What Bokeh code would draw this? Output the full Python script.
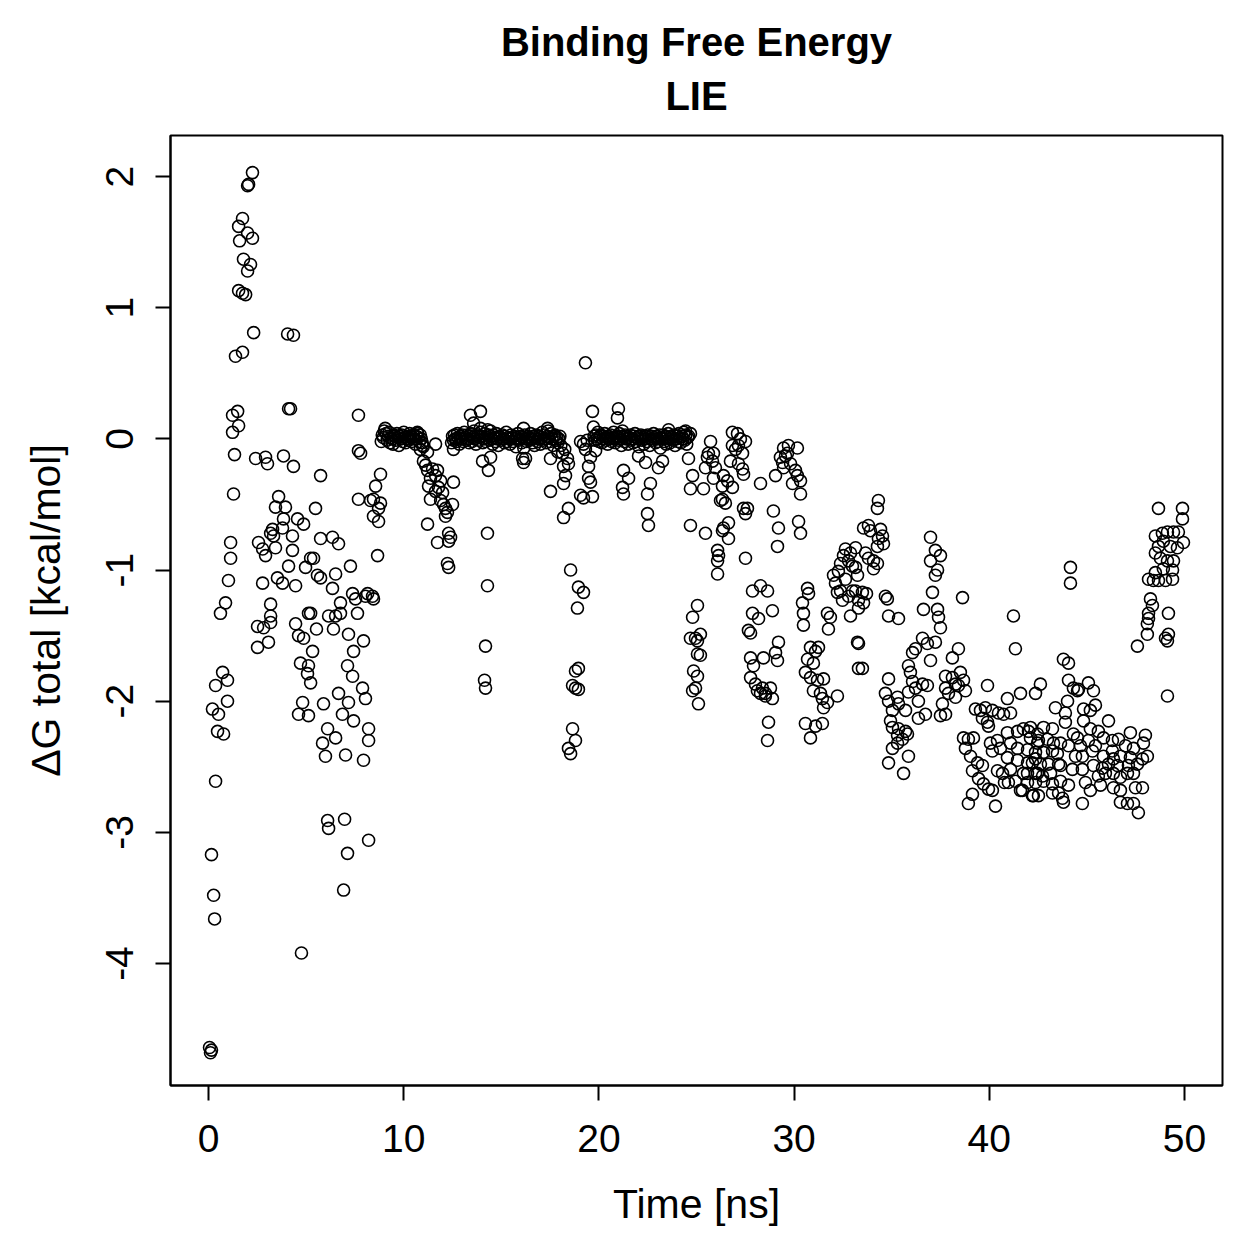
from bokeh.plotting import figure
from bokeh.models import Range1d, FixedTicker, Title, ColumnDataSource
from bokeh.embed import file_html
from bokeh.resources import INLINE
import numpy as np

FRAME_NS = 0.05  # trajectory frame spacing

# --- early, strongly fluctuating part (0 - 9 ns): (time [ns], dG [kcal/mol]) ---
early = [
    (0.05, -4.64), (0.10, -4.68), (0.15, -4.66), (0.15, -3.17), (0.26, -3.48), (0.31, -3.66),
    (0.36, -2.61), (0.20, -2.06), (0.36, -1.88), (0.51, -2.10), (0.46, -2.23), (0.72, -1.78),
    (0.97, -1.84), (0.97, -2.00), (0.77, -2.25), (0.61, -1.33), (0.87, -1.25),
    (1.02, -1.08), (1.13, -0.91), (1.13, -0.79), (1.28, -0.42), (1.23, 0.05), (1.33, -0.12),
    (1.23, 0.18), (1.49, 0.21), (1.54, 0.10), (1.38, 0.63), (1.74, 0.66), (1.59, 1.51),
    (1.54, 1.62), (1.74, 1.68), (1.54, 1.13), (1.74, 1.11), (1.90, 1.10), (1.79, 1.37),
    (2.00, 1.57), (2.00, 1.28), (2.15, 1.33), (2.25, 1.53), (2.00, 1.93), (2.05, 1.94),
    (2.25, 2.03), (2.31, 0.81),
    (2.41, -0.15), (2.92, -0.14), (3.02, -0.19), (2.56, -0.79), (2.77, -0.84), (2.92, -0.89),
    (3.43, -0.83), (2.77, -1.10), (2.51, -1.43), (2.82, -1.44), (3.18, -1.35), (3.18, -1.40),
    (2.51, -1.59), (3.07, -1.55), (3.18, -1.26), (3.28, -0.69), (3.18, -0.72), (3.33, -0.74),
    (3.59, -0.44), (3.43, -0.52), (3.94, -0.52), (3.53, -1.06), (3.79, -1.10), (3.84, -0.61),
    (3.79, -0.68), (4.10, -0.97), (4.30, -0.74), (4.30, -0.85), (4.05, 0.80), (4.35, 0.79),
    (4.10, 0.23), (4.20, 0.23), (3.84, -0.13), (4.35, -0.21), (4.46, -1.12), (4.56, -0.61),
    (4.87, -0.65), (4.46, -1.41), (4.61, -1.50), (4.87, -1.52), (4.71, -1.71), (5.12, -1.73),
    (5.07, -1.79), (5.23, -1.86), (4.82, -2.01), (4.61, -2.10), (5.12, -2.11), (4.76, -3.92),
    (5.23, -0.91), (5.38, -0.91), (4.97, -0.98), (5.12, -1.33), (5.23, -1.33), (5.33, -1.62),
    (5.53, -1.45), (5.58, -1.04), (5.74, -1.06), (5.74, -0.76), (5.48, -0.53), (5.74, -0.28),
    (5.89, -2.02), (6.10, -2.21), (6.51, -2.28), (5.84, -2.32), (5.99, -2.42), (6.10, -2.91),
    (6.15, -2.97), (6.97, -2.90), (6.92, -3.44), (7.12, -3.16), (8.20, -3.06), (6.35, -0.75),
    (6.66, -0.80), (6.51, -1.03), (6.35, -1.14), (6.15, -1.35), (6.51, -1.35), (6.40, -1.45),
    (6.76, -1.33), (6.76, -1.25), (7.17, -1.49), (7.43, -1.62), (7.63, -1.33), (7.38, -1.18),
    (7.53, -1.22), (7.27, -0.97), (7.68, -0.46), (7.68, -0.09), (7.79, -0.11), (7.68, 0.18),
    (7.94, -1.54), (8.04, -1.20), (7.12, -1.73), (7.38, -1.81), (7.89, -1.90), (8.04, -1.98),
    (6.66, -1.94), (7.17, -2.01), (6.86, -2.10), (7.43, -2.15), (7.02, -2.41), (7.94, -2.45),
    (8.20, -2.21), (8.20, -2.30), (8.30, -0.47), (8.15, -1.18), (8.40, -1.20), (8.45, -1.22),
    (8.45, -0.46), (8.81, -0.49), (8.71, -0.53), (8.45, -0.59), (8.71, -0.63), (8.66, -0.89),
    (8.56, -0.36), (8.81, -0.27),
]

# --- plateau 1 (8.85 - 11.00 ns), one value per frame ---
plateau1_start = 8.85
plateau1_dg = [
    -0.02, 0.03, 0.01, 0.06, 0.08, 0.04, -0.01, 0.02, 0.05, -0.03, 0.01, 0.00, -0.04, 0.03,
    0.02, -0.01, 0.04, 0.01, -0.05, 0.02, 0.00, 0.03, -0.02, 0.05, 0.01, -0.03, 0.02, 0.00,
    -0.01, 0.04, 0.02, -0.02, 0.01, 0.03, 0.00, -0.04, 0.02, 0.05, 0.01, -0.02, 0.03, 0.00,
    -0.03, -0.06,
]

# --- dip between the plateaus (10.7 - 12.6 ns) ---
dip = [
    (10.96, -0.05), (11.22, -0.10), (11.63, -0.04), (11.01, -0.17), (11.12, -0.20), (11.22, -0.24),
    (11.48, -0.23), (11.73, -0.24), (11.63, -0.28), (11.37, -0.30), (11.89, -0.32), (11.78, -0.37),
    (11.27, -0.36), (12.55, -0.33), (11.63, -0.40), (11.99, -0.41), (11.37, -0.46), (11.89, -0.47),
    (12.04, -0.50), (12.50, -0.50), (12.14, -0.53), (12.24, -0.56), (12.14, -0.59), (11.22, -0.65),
    (11.73, -0.79), (12.30, -0.72), (12.40, -0.75), (12.30, -0.78), (12.24, -0.95), (12.30, -0.98),
    (10.71, 0.04), (10.85, -0.08),
]

# --- plateau 2 (12.45 - 18.00 ns), one value per frame ---
plateau2_start = 12.45
plateau2_dg = [
    -0.03, 0.02, -0.01, 0.03, 0.00, -0.02, 0.04, 0.01, -0.04, 0.02,
    0.00, 0.03, -0.02, 0.05, 0.01, -0.01, 0.03, 0.00, -0.03, 0.02,
    0.04, -0.02, 0.01, 0.06, 0.00, -0.04, 0.02, 0.03, -0.01, 0.01,
    0.05, 0.02, -0.03, 0.00, 0.04, -0.02, 0.01, 0.07, 0.03, -0.01,
    0.02, 0.00, -0.04, 0.03, 0.01, -0.02, 0.04, 0.00, -0.05, 0.02,
    0.01, -0.01, 0.03, 0.00, -0.03, 0.02, 0.05, -0.02, 0.01, 0.00,
    -0.04, 0.03, 0.01, -0.02, 0.02, 0.00, -0.06, 0.01, 0.04, -0.01,
    0.00, 0.02, -0.03, 0.01, -0.07, 0.03, 0.00, -0.02, 0.02, 0.01,
    -0.01, 0.04, 0.00, -0.03, 0.02, -0.05, 0.01, 0.03, -0.02, 0.00,
    0.02, -0.04, 0.01, 0.05, -0.01, 0.03, 0.00, -0.03, 0.02, 0.06,
    0.01, -0.02, 0.04, 0.00, -0.05, 0.02, 0.03, -0.01, 0.01, -0.03,
    0.00, 0.02,
]

# --- excursions around plateau 2 and the gap before plateau 3 (12.5 - 19.8 ns) ---
mid = [
    (13.42, 0.18), (13.93, 0.21), (13.58, 0.12), (13.93, 0.08), (14.45, 0.06), (16.14, 0.08),
    (17.37, 0.08), (12.55, -0.08), (14.04, -0.17), (14.45, -0.14), (14.34, -0.24), (16.09, -0.15),
    (16.14, -0.18), (16.24, -0.15), (17.52, -0.15), (18.14, -0.11), (18.39, -0.15), (18.44, -0.19),
    (18.19, -0.21), (18.29, -0.28), (18.19, -0.34), (17.52, -0.40), (18.44, -0.53), (18.19, -0.60),
    (14.29, -0.72), (14.29, -1.12), (14.19, -1.58), (14.14, -1.84), (14.19, -1.90),
    (18.05, -0.05), (18.25, -0.08), (17.90, -0.10),
    (19.21, -0.04), (19.31, -0.08), (19.83, -0.09), (19.57, -0.14), (19.47, -0.21), (19.47, -0.30),
    (19.57, -0.33), (19.06, -0.43), (19.21, -0.45), (19.67, -0.44), (19.31, 0.58), (19.67, 0.21),
    (19.72, 0.09), (18.55, -1.00), (18.95, -1.13), (19.21, -1.17), (18.90, -1.29), (18.80, -1.77),
    (18.95, -1.75), (18.65, -1.88), (18.80, -1.90), (18.95, -1.91), (18.65, -2.21), (18.80, -2.30),
    (18.44, -2.36), (18.55, -2.40), (19.06, -0.02), (19.40, -0.01),
]

# --- plateau 3 (19.75 - 24.60 ns), one value per frame ---
plateau3_start = 19.75
plateau3_dg = [
    0.02, -0.01, 0.03, 0.00, 0.05, -0.02, 0.01, 0.03, -0.03, 0.00,
    0.02, 0.04, -0.01, 0.01, -0.04, 0.02, 0.00, 0.03, -0.02, 0.01,
    0.05, 0.00, -0.03, 0.02, 0.01, -0.01, 0.04, 0.00, -0.05, 0.02,
    0.01, -0.02, 0.03, 0.00, 0.02, -0.04, 0.01, 0.03, -0.01, 0.00,
    -0.03, 0.02, 0.04, -0.02, 0.01, 0.00, -0.06, 0.02, 0.03, -0.01,
    0.01, -0.04, 0.00, 0.02, -0.02, 0.03, 0.01, -0.05, 0.00, 0.02,
    -0.01, 0.04, 0.01, -0.03, 0.02, 0.00, -0.02, 0.03, -0.07, 0.01,
    0.00, 0.03, -0.02, 0.02, -0.04, 0.01, 0.04, 0.00, -0.03, 0.02,
    0.01, -0.01, 0.03, -0.05, 0.00, 0.02, -0.02, 0.04, 0.01, -0.03,
    0.02, 0.00, 0.05, -0.01, 0.03, -0.04, 0.01, 0.02,
]

# --- excursions around plateau 3 (20 - 25.2 ns) ---
late_plateau = [
    (21.00, 0.23), (20.95, 0.16), (21.21, 0.06), (23.57, 0.07), (24.44, 0.06), (24.69, 0.04),
    (22.03, -0.13), (22.39, -0.18), (21.26, -0.24), (21.52, -0.30), (21.21, -0.37), (21.26, -0.42),
    (22.64, -0.34), (22.49, -0.42), (22.49, -0.57), (22.54, -0.66), (23.05, -0.22), (23.26, -0.17),
    (24.59, -0.15), (24.80, -0.28), (24.69, -0.38), (24.69, -0.66), (25.05, -1.27), (24.80, -1.36),
    (24.69, -1.52), (24.95, -1.52), (25.05, -1.54), (25.05, -1.64), (24.85, -1.77), (25.05, -1.81),
    (24.80, -1.92), (25.10, -2.02), (25.20, -1.49), (25.20, -1.65), (24.95, -1.90),
]

# --- drift towards more negative values (25 - 35.5 ns) ---
drift = [
    (25.46, -0.72), (25.72, -0.02), (25.61, -0.11), (25.87, -0.11), (25.56, -0.14), (25.82, -0.17),
    (25.46, -0.22), (25.97, -0.22), (25.87, -0.30), (25.36, -0.38), (26.38, -0.28), (26.59, -0.32),
    (26.33, -0.36), (26.84, -0.37), (26.33, -0.46), (26.48, -0.49), (26.23, -0.47), (26.38, -0.68),
    (26.64, -0.64), (26.33, -0.70), (26.64, -0.76), (26.08, -0.85), (26.13, -0.89), (26.08, -0.93),
    (26.08, -1.03), (26.84, 0.05), (27.10, 0.04), (27.25, 0.00), (27.51, -0.02), (26.84, -0.05),
    (27.00, -0.08), (27.15, -0.05), (27.36, -0.11), (26.74, -0.17), (27.15, -0.19), (27.36, -0.23),
    (27.41, -0.27), (27.41, -0.53), (27.61, -0.53), (27.51, -0.57), (27.51, -0.91), (28.28, -0.34),
    (29.05, -0.28), (28.94, -0.55), (29.20, -0.68), (29.15, -0.82), (29.46, -0.07), (29.66, -0.11),
    (29.71, -0.05), (29.30, -0.14), (30.17, -0.07), (29.82, -0.19), (30.07, -0.24), (30.17, -0.28),
    (29.92, -0.34), (30.33, -0.32), (30.33, -0.42), (30.23, -0.63), (30.33, -0.72), (29.46, -0.22),
    (29.41, -0.18), (29.56, -0.13),
    (27.87, -1.16), (28.28, -1.12), (28.64, -1.16), (27.87, -1.33), (28.18, -1.37), (28.89, -1.31),
    (27.66, -1.46), (27.77, -1.48), (29.20, -1.55), (29.05, -1.63), (29.15, -1.69), (27.77, -1.67),
    (27.92, -1.73), (28.43, -1.67), (27.77, -1.82), (28.02, -1.87), (28.12, -1.92), (28.38, -1.90),
    (28.53, -1.94), (28.79, -1.90), (28.89, -1.98), (28.53, -1.96), (28.28, -1.94), (28.69, -2.16),
    (28.64, -2.30),
    (30.69, -1.14), (30.74, -1.18), (30.43, -1.25), (30.48, -1.33), (30.48, -1.42), (31.71, -1.33),
    (31.86, -1.36), (31.76, -1.45), (30.84, -1.59), (31.10, -1.62), (31.25, -1.59), (30.69, -1.68),
    (30.99, -1.71), (30.58, -1.78), (30.84, -1.82), (31.20, -1.84), (31.51, -1.83), (30.99, -1.92),
    (31.35, -1.94), (31.45, -1.98), (31.71, -2.01), (32.22, -1.96), (31.51, -2.05), (30.58, -2.17),
    (31.10, -2.19), (31.45, -2.17), (30.84, -2.28),
    (33.56, -0.68), (32.02, -1.04), (32.12, -1.10), (32.27, -1.01), (32.38, -0.95), (32.53, -0.89),
    (32.63, -0.84), (32.79, -0.93), (32.89, -0.87), (32.99, -0.97), (33.15, -0.83), (33.15, -0.98),
    (33.25, -1.04), (32.63, -1.07), (32.38, -1.16), (32.22, -1.17), (32.48, -1.23), (32.79, -1.20),
    (32.99, -1.16), (33.15, -1.16), (33.30, -1.23), (33.50, -1.17), (33.56, -1.25), (33.30, -1.29),
    (33.71, -1.18), (32.89, -1.35), (33.25, -1.55), (33.30, -1.56), (33.30, -1.75), (33.50, -1.75),
    (34.32, -0.47), (34.27, -0.53), (33.81, -0.66), (33.91, -0.70), (34.43, -0.69), (34.53, -0.74),
    (34.32, -0.76), (34.58, -0.80), (34.27, -0.82), (33.66, -0.87), (33.81, -0.91), (34.07, -0.93),
    (34.27, -0.95), (34.07, -0.99), (34.68, -1.20), (34.78, -1.22), (34.84, -1.35), (35.35, -1.37),
]

# --- low-energy basin (34.5 - 48.2 ns) ---
basin = [
    (36.99, -0.75), (37.24, -0.85), (37.50, -0.89), (36.99, -0.93), (37.35, -1.00), (37.24, -1.04),
    (37.09, -1.17), (36.63, -1.30), (37.35, -1.30), (37.40, -1.36), (37.50, -1.44), (38.63, -1.21),
    (36.58, -1.52), (36.83, -1.56), (37.24, -1.55), (36.22, -1.60), (36.07, -1.63), (36.99, -1.69),
    (38.42, -1.60), (38.11, -1.67), (34.84, -1.83), (35.86, -1.73), (35.96, -1.78), (36.07, -1.85),
    (36.22, -1.90), (35.86, -1.93), (36.58, -1.87), (36.83, -1.88), (36.37, -2.00), (34.68, -1.94),
    (34.84, -2.00), (35.30, -1.97), (35.35, -2.02), (35.04, -2.07), (35.71, -2.07), (36.37, -2.13),
    (36.73, -2.10), (34.94, -2.15), (35.04, -2.20), (35.35, -2.21), (35.30, -2.26), (35.71, -2.23),
    (35.55, -2.29), (35.81, -2.25), (35.30, -2.32), (35.04, -2.36), (35.86, -2.42), (34.84, -2.47),
    (35.61, -2.55),
    (37.76, -1.81), (38.11, -1.82), (38.27, -1.87), (38.52, -1.78), (38.78, -1.92), (38.42, -1.88),
    (37.76, -1.90), (37.91, -1.94), (38.27, -1.97), (38.68, -1.84), (37.60, -2.02), (37.76, -2.10),
    (37.50, -2.11), (39.91, -1.88), (40.93, -1.98), (41.60, -1.94), (41.24, -1.35), (41.34, -1.60),
    (39.29, -2.06), (39.55, -2.07), (39.80, -2.05), (40.16, -2.07), (40.47, -2.09), (40.73, -2.10),
    (41.09, -2.09), (39.65, -2.13), (39.96, -2.19), (39.91, -2.16), (38.68, -2.28), (38.93, -2.29),
    (39.19, -2.28), (38.78, -2.36), (39.04, -2.42), (39.40, -2.47), (39.65, -2.49), (39.14, -2.53),
    (39.45, -2.59), (39.70, -2.63), (39.96, -2.67), (40.16, -2.68), (39.14, -2.71), (38.93, -2.78),
    (40.32, -2.80), (40.68, -2.55), (40.98, -2.62), (41.34, -2.61), (41.70, -2.68),
    (40.06, -2.32), (40.42, -2.30), (40.16, -2.38), (40.57, -2.36), (41.09, -2.32), (40.93, -2.24),
    (41.45, -2.23), (41.45, -2.36), (40.93, -2.43), (41.45, -2.45), (40.42, -2.53), (41.09, -2.52),
    (40.78, -2.62), (42.62, -1.87), (42.37, -1.94),
    (42.01, -2.23), (42.47, -2.25), (41.96, -2.37), (42.47, -2.32), (41.96, -2.47), (42.37, -2.44),
    (41.75, -2.55), (42.47, -2.55), (41.60, -2.68), (42.26, -2.72), (42.52, -2.72),
    (41.75, -2.21), (42.11, -2.20), (42.78, -2.20), (43.24, -2.21), (42.11, -2.28), (42.52, -2.30),
    (42.98, -2.29), (43.29, -2.32), (43.65, -2.32), (42.37, -2.39), (42.78, -2.39), (43.24, -2.38),
    (43.49, -2.40), (42.21, -2.47), (42.62, -2.48), (43.03, -2.48), (43.55, -2.48), (41.96, -2.55),
    (42.37, -2.55), (42.73, -2.57), (43.14, -2.55), (41.96, -2.62), (42.37, -2.62), (42.78, -2.61),
    (43.24, -2.63), (43.55, -2.70), (43.75, -2.74), (42.21, -2.72), (43.24, -2.70), (43.80, -2.77),
    (44.16, -0.98), (44.16, -1.10), (43.80, -1.68), (44.06, -1.71), (44.06, -1.84), (44.31, -1.90),
    (44.57, -1.91), (45.08, -1.86), (45.34, -1.92), (44.52, -1.92), (43.39, -2.05), (44.01, -2.00),
    (43.90, -2.09), (44.83, -2.06), (45.18, -2.07), (45.44, -2.03), (46.11, -2.15), (43.90, -2.16),
    (44.83, -2.15), (45.18, -2.21), (45.59, -2.23), (44.31, -2.25), (44.52, -2.28), (47.23, -2.24),
    (48.00, -2.26), (47.90, -2.32), (47.39, -2.36), (46.62, -2.29), (46.31, -2.30), (45.85, -2.28),
    (48.10, -2.42), (47.85, -2.44), (47.23, -2.43), (46.72, -2.42), (46.36, -2.44), (45.85, -2.42),
    (45.29, -2.38), (44.77, -2.42), (44.42, -2.42), (43.65, -2.49), (44.26, -2.52), (44.77, -2.52),
    (45.34, -2.49), (45.80, -2.51), (46.11, -2.48), (46.57, -2.49), (47.13, -2.49), (47.59, -2.48),
    (45.59, -2.57), (45.95, -2.55), (46.36, -2.55), (46.72, -2.58), (47.08, -2.55), (47.39, -2.55),
    (44.93, -2.62), (46.36, -2.66), (46.72, -2.68), (47.49, -2.66), (47.85, -2.66), (46.72, -2.77),
    (47.08, -2.78), (47.39, -2.78), (47.64, -2.85), (44.77, -2.78),
    (44.06, -2.34), (44.67, -2.34), (45.08, -2.30), (45.44, -2.34), (43.65, -2.61), (44.06, -2.64),
    (45.18, -2.68), (45.70, -2.64), (46.31, -2.38), (46.98, -2.34),
]

# --- final recovery (47.5 - 50 ns) ---
recovery = [
    (48.26, -1.22), (48.36, -1.27), (48.16, -1.33), (48.16, -1.37), (48.10, -1.41), (48.10, -1.49),
    (47.59, -1.58), (49.18, -1.33), (49.18, -1.49), (49.03, -1.52), (49.13, -1.54), (49.13, -1.96),
    (48.67, -0.53), (49.90, -0.53), (49.90, -0.61),
    (48.51, -0.74), (48.87, -0.72), (49.13, -0.71), (49.44, -0.71), (49.69, -0.71), (49.95, -0.79),
    (49.64, -0.83), (49.28, -0.82), (48.92, -0.78), (48.67, -0.82), (48.51, -0.87), (48.77, -0.91),
    (49.13, -0.93), (49.44, -0.93), (49.39, -1.00), (48.92, -0.99), (48.51, -1.02), (48.16, -1.07),
    (48.41, -1.08), (48.67, -1.08), (49.03, -1.08), (49.39, -1.07),
]

x_ticks = [0, 10, 20, 30, 40, 50]
y_ticks = [-4, -3, -2, -1, 0, 1, 2]


def plateau(start, values):
    return [(round(start + i * FRAME_NS, 2), v) for i, v in enumerate(values)]


points = (early + plateau(plateau1_start, plateau1_dg) + dip
          + plateau(plateau2_start, plateau2_dg) + mid
          + plateau(plateau3_start, plateau3_dg) + late_plateau
          + drift + basin + recovery)
points.sort(key=lambda p: p[0])
time_ns = np.array([p[0] for p in points])
dg_total = np.array([p[1] for p in points])

source = ColumnDataSource(data=dict(time=time_ns, dg=dg_total))

FONT = "Liberation Sans"

p = figure(
    width=1259, height=1259,
    output_backend="svg", toolbar_location=None,
    x_range=Range1d(-1.95, 51.95), y_range=Range1d(-4.93, 2.313),
    min_border_left=170, min_border_right=37, min_border_top=135, min_border_bottom=174,
    background_fill_color="white", border_fill_color="white",
)
p.title = None

p.scatter("time", "dg", source=source, marker="circle", size=12,
          fill_color=None, line_color="black", line_width=1.6)

p.grid.visible = False
p.outline_line_color = "black"
p.outline_line_width = 2
p.outline_line_alpha = 1

for ax in (p.xaxis[0], p.yaxis[0]):
    ax.axis_line_width = 2
    ax.major_tick_line_width = 2
    ax.major_tick_out = 15
    ax.major_tick_in = 0
    ax.minor_tick_out = 0
    ax.minor_tick_in = 0
    ax.major_label_text_font = FONT
    ax.major_label_text_font_size = "39px"
    ax.major_label_text_color = "black"
    ax.axis_label_text_font = FONT
    ax.axis_label_text_font_size = "41px"
    ax.axis_label_text_font_style = "normal"
    ax.axis_label_text_color = "black"

p.xaxis[0].ticker = FixedTicker(ticks=x_ticks)
p.yaxis[0].ticker = FixedTicker(ticks=y_ticks)
# plain hyphen minus signs on the tick labels
p.yaxis[0].major_label_overrides = {t: str(t) for t in y_ticks}
p.xaxis[0].axis_label = "Time [ns]"
p.yaxis[0].axis_label = "ΔG total [kcal/mol]"
p.yaxis[0].major_label_orientation = "vertical"
p.xaxis[0].major_label_standoff = 24
p.yaxis[0].major_label_standoff = 22
p.xaxis[0].axis_label_standoff = 26
p.yaxis[0].axis_label_standoff = 35

p.add_layout(Title(text="LIE", align="center", text_font=FONT, text_font_size="40px",
                   text_font_style="bold", text_color="black", standoff=35), "above")
p.add_layout(Title(text="Binding Free Energy", align="center", text_font=FONT,
                   text_font_size="40px", text_font_style="bold", text_color="black",
                   standoff=-18), "above")

open("out.html", "w").write(file_html(p, INLINE))
